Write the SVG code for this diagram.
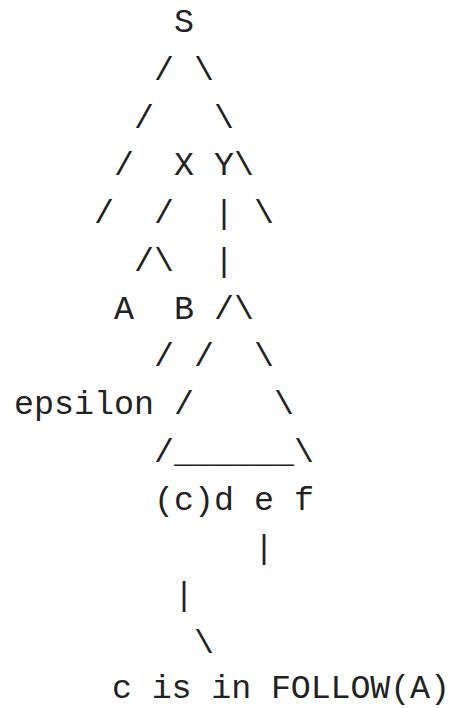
<svg xmlns="http://www.w3.org/2000/svg" width="452" height="708" viewBox="0 0 452 708">
<style>
text{font-family:"Liberation Mono","DejaVu Sans Mono",monospace;font-size:33.33px;fill:#222;white-space:pre}
</style>
<rect width="452" height="708" fill="#fff"/>
<g id="connectors">
<text x="154" y="79.8">/</text><text x="194" y="79.8">\</text>
<text x="134" y="127.5">/</text><text x="214" y="127.5">\</text>
<text x="114" y="175.3">/</text><text x="234" y="175.3">\</text>
<text x="94" y="223.1">/</text><text x="154" y="223.1">/</text><text x="214" y="223.1">|</text><text x="254" y="223.1">\</text>
<text x="134" y="270.9">/</text><text x="154" y="270.9">\</text><text x="214" y="270.9">|</text>
<text x="214" y="318.7">/</text><text x="234" y="318.7">\</text>
<text x="154" y="366.4">/</text><text x="194" y="366.4">/</text><text x="254" y="366.4">\</text>
<text x="174" y="414.2">/</text><text x="274" y="414.2">\</text>
<text x="154" y="462">/</text><text x="174" y="462">______</text><text x="294" y="462">\</text>
<text x="254" y="557.5">|</text>
<text x="174" y="605.3">|</text>
<text x="194" y="653.1">\</text>
</g>
<g id="node-S"><text x="174" y="32">S</text></g>
<g id="node-X"><text x="174" y="175.3">X</text></g>
<g id="node-Y"><text x="214" y="175.3">Y</text></g>
<g id="node-A"><text x="114" y="318.7">A</text></g>
<g id="node-B"><text x="174" y="318.7">B</text></g>
<g id="node-epsilon"><text x="14" y="414.2">epsilon</text></g>
<g id="node-cdef"><text x="154" y="509.8">(c)d e f</text></g>
<g id="node-follow"><text x="112" y="697.5" textLength="338" lengthAdjust="spacing">c is in FOLLOW(A)</text></g>
</svg>
